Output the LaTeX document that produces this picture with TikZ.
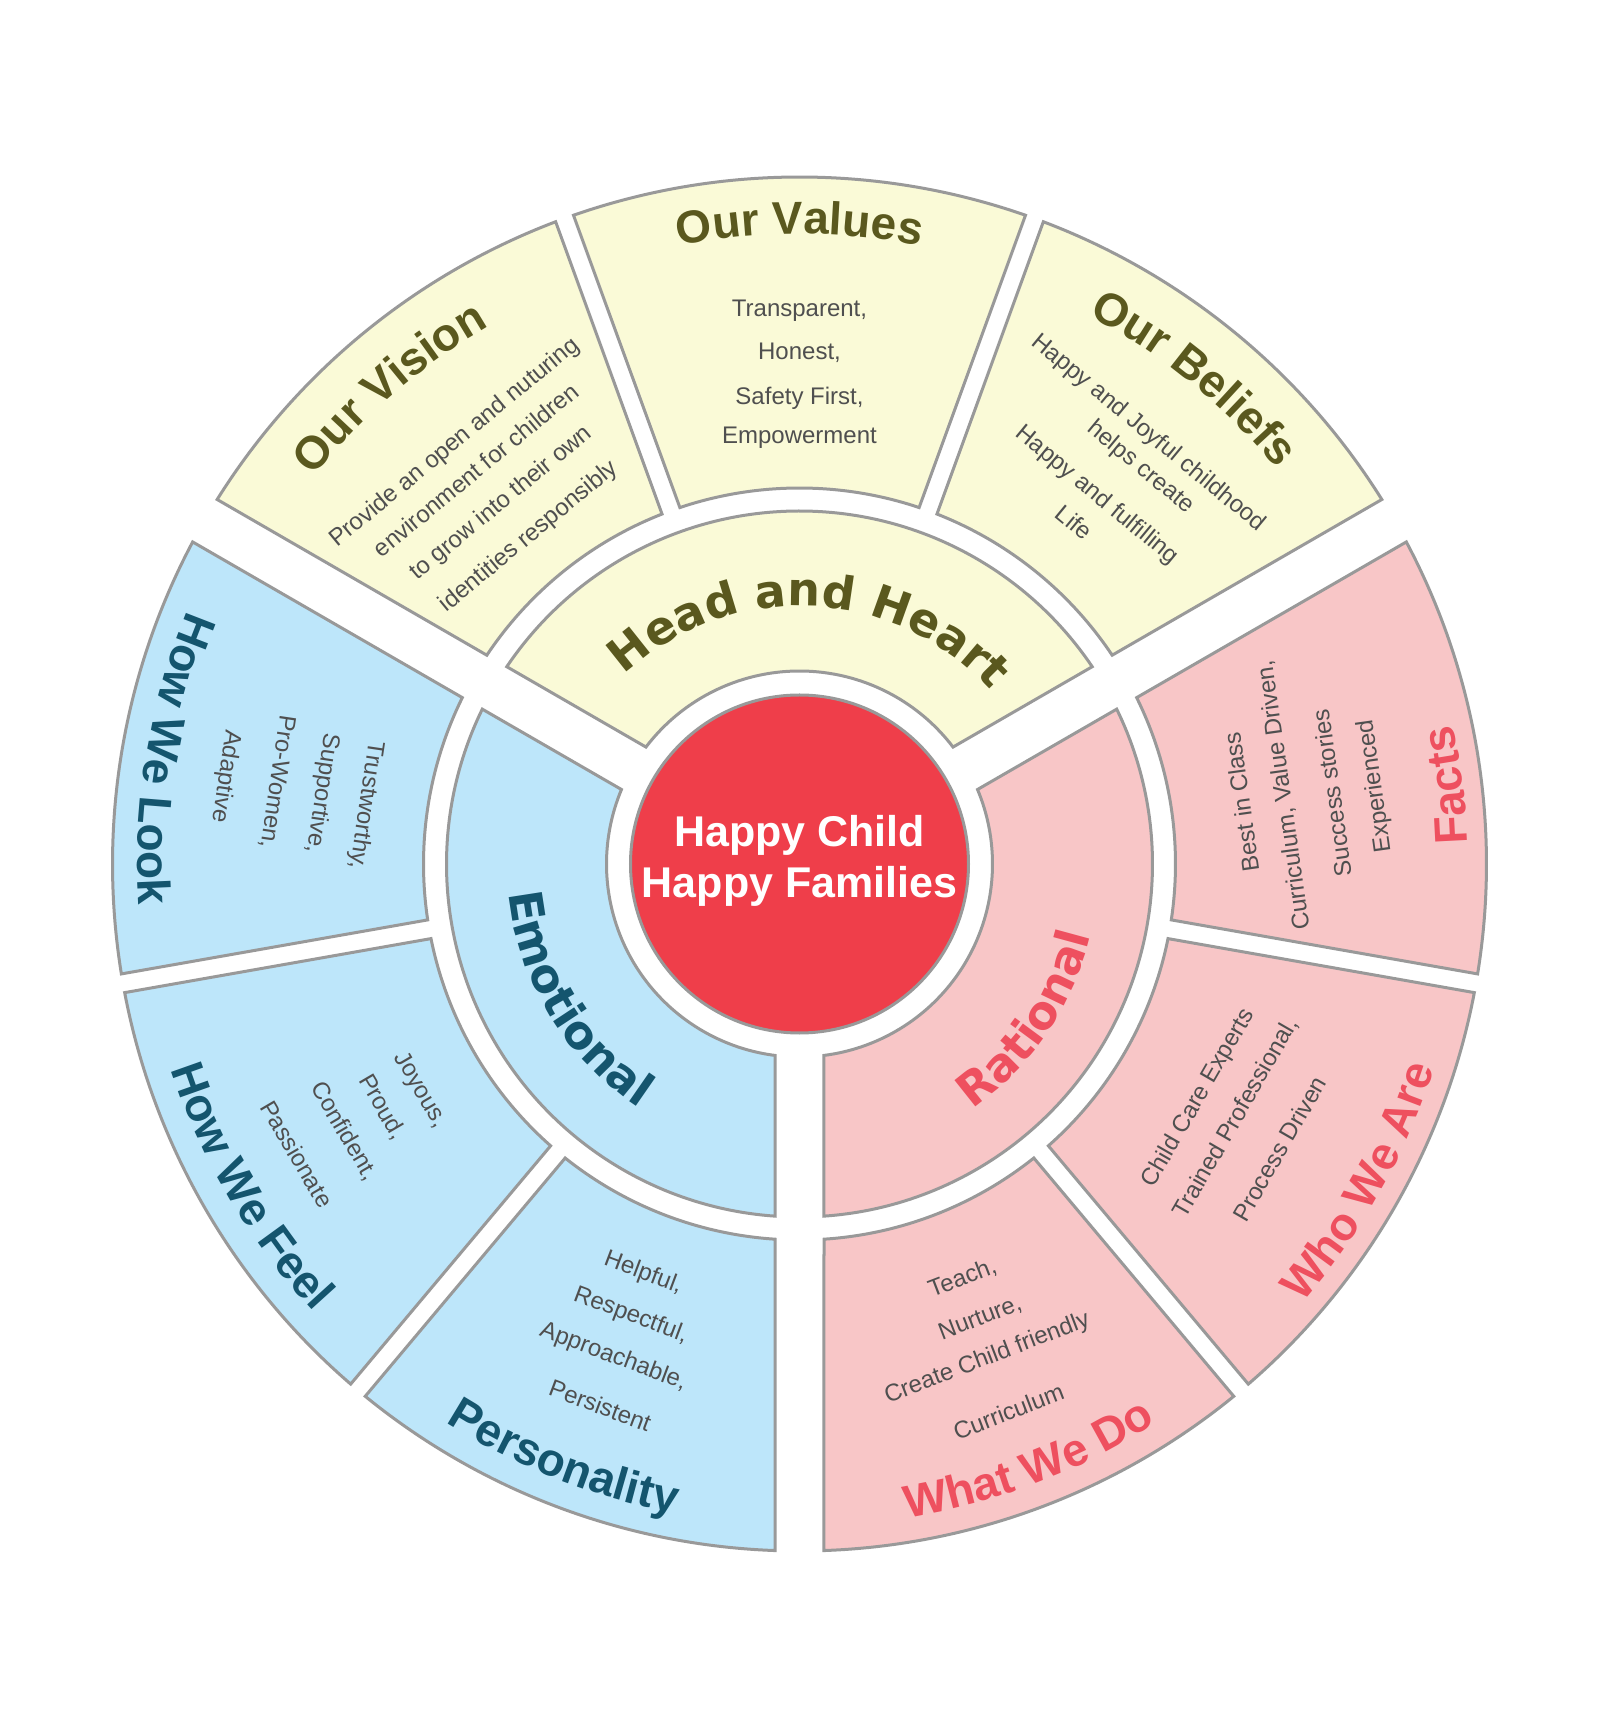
\documentclass[tikz,border=0pt]{standalone}
\usepackage{fontspec}
\setmainfont{Liberation Sans}
\newfontfamily\widesans{DejaVu Sans}
\usetikzlibrary{decorations.text}

\definecolor{ringline}{HTML}{999999}
\definecolor{yellowfill}{HTML}{FAFAD7}
\definecolor{bluefill}{HTML}{BDE6FA}
\definecolor{pinkfill}{HTML}{F8C6C7}
\definecolor{hubred}{HTML}{EF3E4A}
\definecolor{olivetext}{HTML}{5A581E}
\definecolor{tealtext}{HTML}{14556E}
\definecolor{rosetext}{HTML}{EE505F}
\definecolor{bodytext}{HTML}{4F4F4F}

\newcommand\outertitlefont{\fontsize{46}{52}\selectfont\bfseries}
\newcommand\innertitlefont{\widesans\fontsize{46}{52}\selectfont\bfseries}
\newcommand\bodyfont{\fontsize{24}{28}\selectfont}

% ring segment between two rays, each edge pulled in by half a gap
% #1 start angle, #2 end angle, #3 half gap at start, #4 half gap at end,
% #5 inner radius, #6 outer radius, #7 style
\newcommand\ringsegment[7]{%
  \pgfmathsetmacro\segOA{#1+asin(#3/#6)}%
  \pgfmathsetmacro\segOB{#2-asin(#4/#6)}%
  \pgfmathsetmacro\segIB{#2-asin(#4/#5)}%
  \pgfmathsetmacro\segIA{#1+asin(#3/#5)}%
  \draw[#7] (\segOA:#6pt) arc[start angle=\segOA, end angle=\segOB, radius=#6pt]
    -- (\segIB:#5pt) arc[start angle=\segIB, end angle=\segIA, radius=#5pt] -- cycle;%
}

% curved heading read clockwise (letters pointing outwards)
% #1 centre angle, #2 baseline radius, #3 colour, #4 font, #5 text
\newcommand\headcw[5]{%
  \pgfmathsetmacro\hdA{#1+75}%
  \pgfmathsetmacro\hdB{#1-75}%
  \path[decorate, decoration={text along path, text align=center,
      text color=#3, text={|#4|#5}}]
    (\hdA:#2pt) arc[start angle=\hdA, end angle=\hdB, radius=#2pt];%
}
% curved heading read counter-clockwise (letters pointing to the centre)
\newcommand\headccw[5]{%
  \pgfmathsetmacro\hdA{#1-75}%
  \pgfmathsetmacro\hdB{#1+75}%
  \path[decorate, decoration={text along path, text align=center,
      text color=#3, text={|#4|#5}}]
    (\hdA:#2pt) arc[start angle=\hdA, end angle=\hdB, radius=#2pt];%
}

\tikzset{
  ringseg/.style={draw=ringline, line width=3pt},
  yellowseg/.style={ringseg, fill=yellowfill},
  blueseg/.style={ringseg, fill=bluefill},
  pinkseg/.style={ringseg, fill=pinkfill},
  bodyline/.style={font=\bodyfont, text=bodytext, inner sep=0pt, anchor=center},
  hubtext/.style={font=\fontsize{43}{50.6}\selectfont\bfseries, text=white,
      align=center, inner sep=0pt},
}

\begin{document}
\begin{tikzpicture}
\fill[white] (-799.5pt,-864pt) rectangle (797.5pt,864pt);
\useasboundingbox (-799.5pt,-864pt) rectangle (797.5pt,864pt);

% inner ring
\ringsegment{30}{150}{24.5}{24.5}{193}{353}{yellowseg}
\ringsegment{150}{270}{24.5}{24.5}{193}{353}{blueseg}
\ringsegment{-90}{30}{24.5}{24.5}{193}{353}{pinkseg}

% outer ring
\ringsegment{30}{70}{24.5}{9.5}{376}{687}{yellowseg}
\ringsegment{70}{110}{9.5}{9.5}{376}{687}{yellowseg}
\ringsegment{110}{150}{9.5}{24.5}{376}{687}{yellowseg}
\ringsegment{150}{190}{24.5}{9.5}{376}{687}{blueseg}
\ringsegment{190}{230}{9.5}{9.5}{376}{687}{blueseg}
\ringsegment{230}{270}{9.5}{24.5}{376}{687}{blueseg}
\ringsegment{-90}{-50}{24.5}{9.5}{376}{687}{pinkseg}
\ringsegment{-50}{-10}{9.5}{9.5}{376}{687}{pinkseg}
\ringsegment{-10}{30}{9.5}{24.5}{376}{687}{pinkseg}

% hub
\node[circle, draw=ringline, line width=3pt, fill=hubred, minimum size=338pt,
      inner sep=0pt] (hub) at (0,0) {};
\node[hubtext] (hublabel) at (0pt,2.9pt) {Happy Child\\Happy Families};

% inner ring headings
\headcw{87.5}{258}{olivetext}{\innertitlefont}{Head and Heart}
\headccw{211.3}{292}{tealtext}{\innertitlefont}{Emotional}
\headccw{-34.3}{300}{rosetext}{\innertitlefont}{Rational}

% outer ring headings
\headcw{130.7}{621}{olivetext}{\outertitlefont}{Our Vision}
\headcw{90}{630}{olivetext}{\outertitlefont}{Our Values}
\headcw{50.9}{620}{olivetext}{\outertitlefont}{Our Beliefs}
\headccw{6.9}{668}{rosetext}{\outertitlefont}{Facts}
\headccw{-29.5}{667}{rosetext}{\outertitlefont}{Who We Are}
\headccw{-69}{663}{rosetext}{\outertitlefont}{What We Do}
\headccw{170.5}{662}{tealtext}{\outertitlefont}{How We Look}
\headccw{210.4}{661}{tealtext}{\outertitlefont}{How We Feel}
\headccw{248.4}{661}{tealtext}{\outertitlefont}{Personality}

% Our Vision
\node[bodyline, rotate=39.5] (vis1) at (129.3:544pt) {Provide an open and nuturing};
\node[bodyline, rotate=39.5] (vis2) at (129.4:510pt) {environment for children};
\node[bodyline, rotate=39.5] (vis3) at (129.6:468pt) {to grow into their own};
\node[bodyline, rotate=39.5] (vis4) at (129.6:424.5pt) {identities responsibly};

% Our Values
\node[bodyline] (val1) at (90:553pt) {Transparent,};
\node[bodyline] (val2) at (90:511pt) {Honest,};
\node[bodyline] (val3) at (90:466pt) {Safety First,};
\node[bodyline] (val4) at (90:426pt) {Empowerment};

% Our Beliefs
\node[bodyline, rotate=-39.5] (bel1) at (51.0:554pt) {Happy and Joyful childhood};
\node[bodyline, rotate=-39.5] (bel2) at (49.3:523pt) {helps create};
\node[bodyline, rotate=-39.5] (bel3) at (51.1:473.3pt) {Happy and fulfilling};
\node[bodyline, rotate=-39.5] (bel4) at (51.2:438.3pt) {Life};

% Facts
\node[bodyline, rotate=98] (fac1) at (8.0:446pt) {Best in Class};
\node[bodyline, rotate=98] (fac2) at (8.1:489pt) {Curriculum, Value Driven,};
\node[bodyline, rotate=98] (fac3) at (7.6:537pt) {Success stories};
\node[bodyline, rotate=98] (fac4) at (7.7:581pt) {Experienced};

% Who We Are
\node[bodyline, rotate=60] (who1) at (-30.4:463pt) {Child Care Experts};
\node[bodyline, rotate=60] (who2) at (-30.2:505pt) {Trained Professional,};
\node[bodyline, rotate=60] (who3) at (-30.7:558pt) {Process Driven};

% What We Do
\node[bodyline, rotate=21] (wdo1) at (-68.5:445pt) {Teach,};
\node[bodyline, rotate=21] (wdo2) at (-68.3:489pt) {Nurture,};
\node[bodyline, rotate=21] (wdo3) at (-69.2:529pt) {Create Child friendly};
\node[bodyline, rotate=21] (wdo4) at (-69.1:586pt) {Curriculum};

% How We Look
\node[bodyline, rotate=-98.4] (lok1) at (172.3:438pt) {Trustworthy,};
\node[bodyline, rotate=-98.4] (lok2) at (171.6:483pt) {Supportive,};
\node[bodyline, rotate=-98.4] (lok3) at (171.1:529pt) {Pro-Women,};
\node[bodyline, rotate=-98.4] (lok4) at (171.3:581pt) {Adaptive};

% How We Feel
\node[bodyline, rotate=-59.6] (fel1) at (210.8:442pt) {Joyous,};
\node[bodyline, rotate=-59.6] (fel2) at (210.2:483pt) {Proud,};
\node[bodyline, rotate=-59.6] (fel3) at (210.4:528pt) {Confident,};
\node[bodyline, rotate=-59.6] (fel4) at (210.0:580pt) {Passionate};

% Personality
\node[bodyline, rotate=-20.6] (per1) at (249.1:438pt) {Helpful,};
\node[bodyline, rotate=-20.6] (per2) at (249.5:482pt) {Respectful,};
\node[bodyline, rotate=-20.6] (per3) at (249.3:527pt) {Approachable,};
\node[bodyline, rotate=-20.6] (per4) at (249.8:577pt) {Persistent};
\end{tikzpicture}
\end{document}
